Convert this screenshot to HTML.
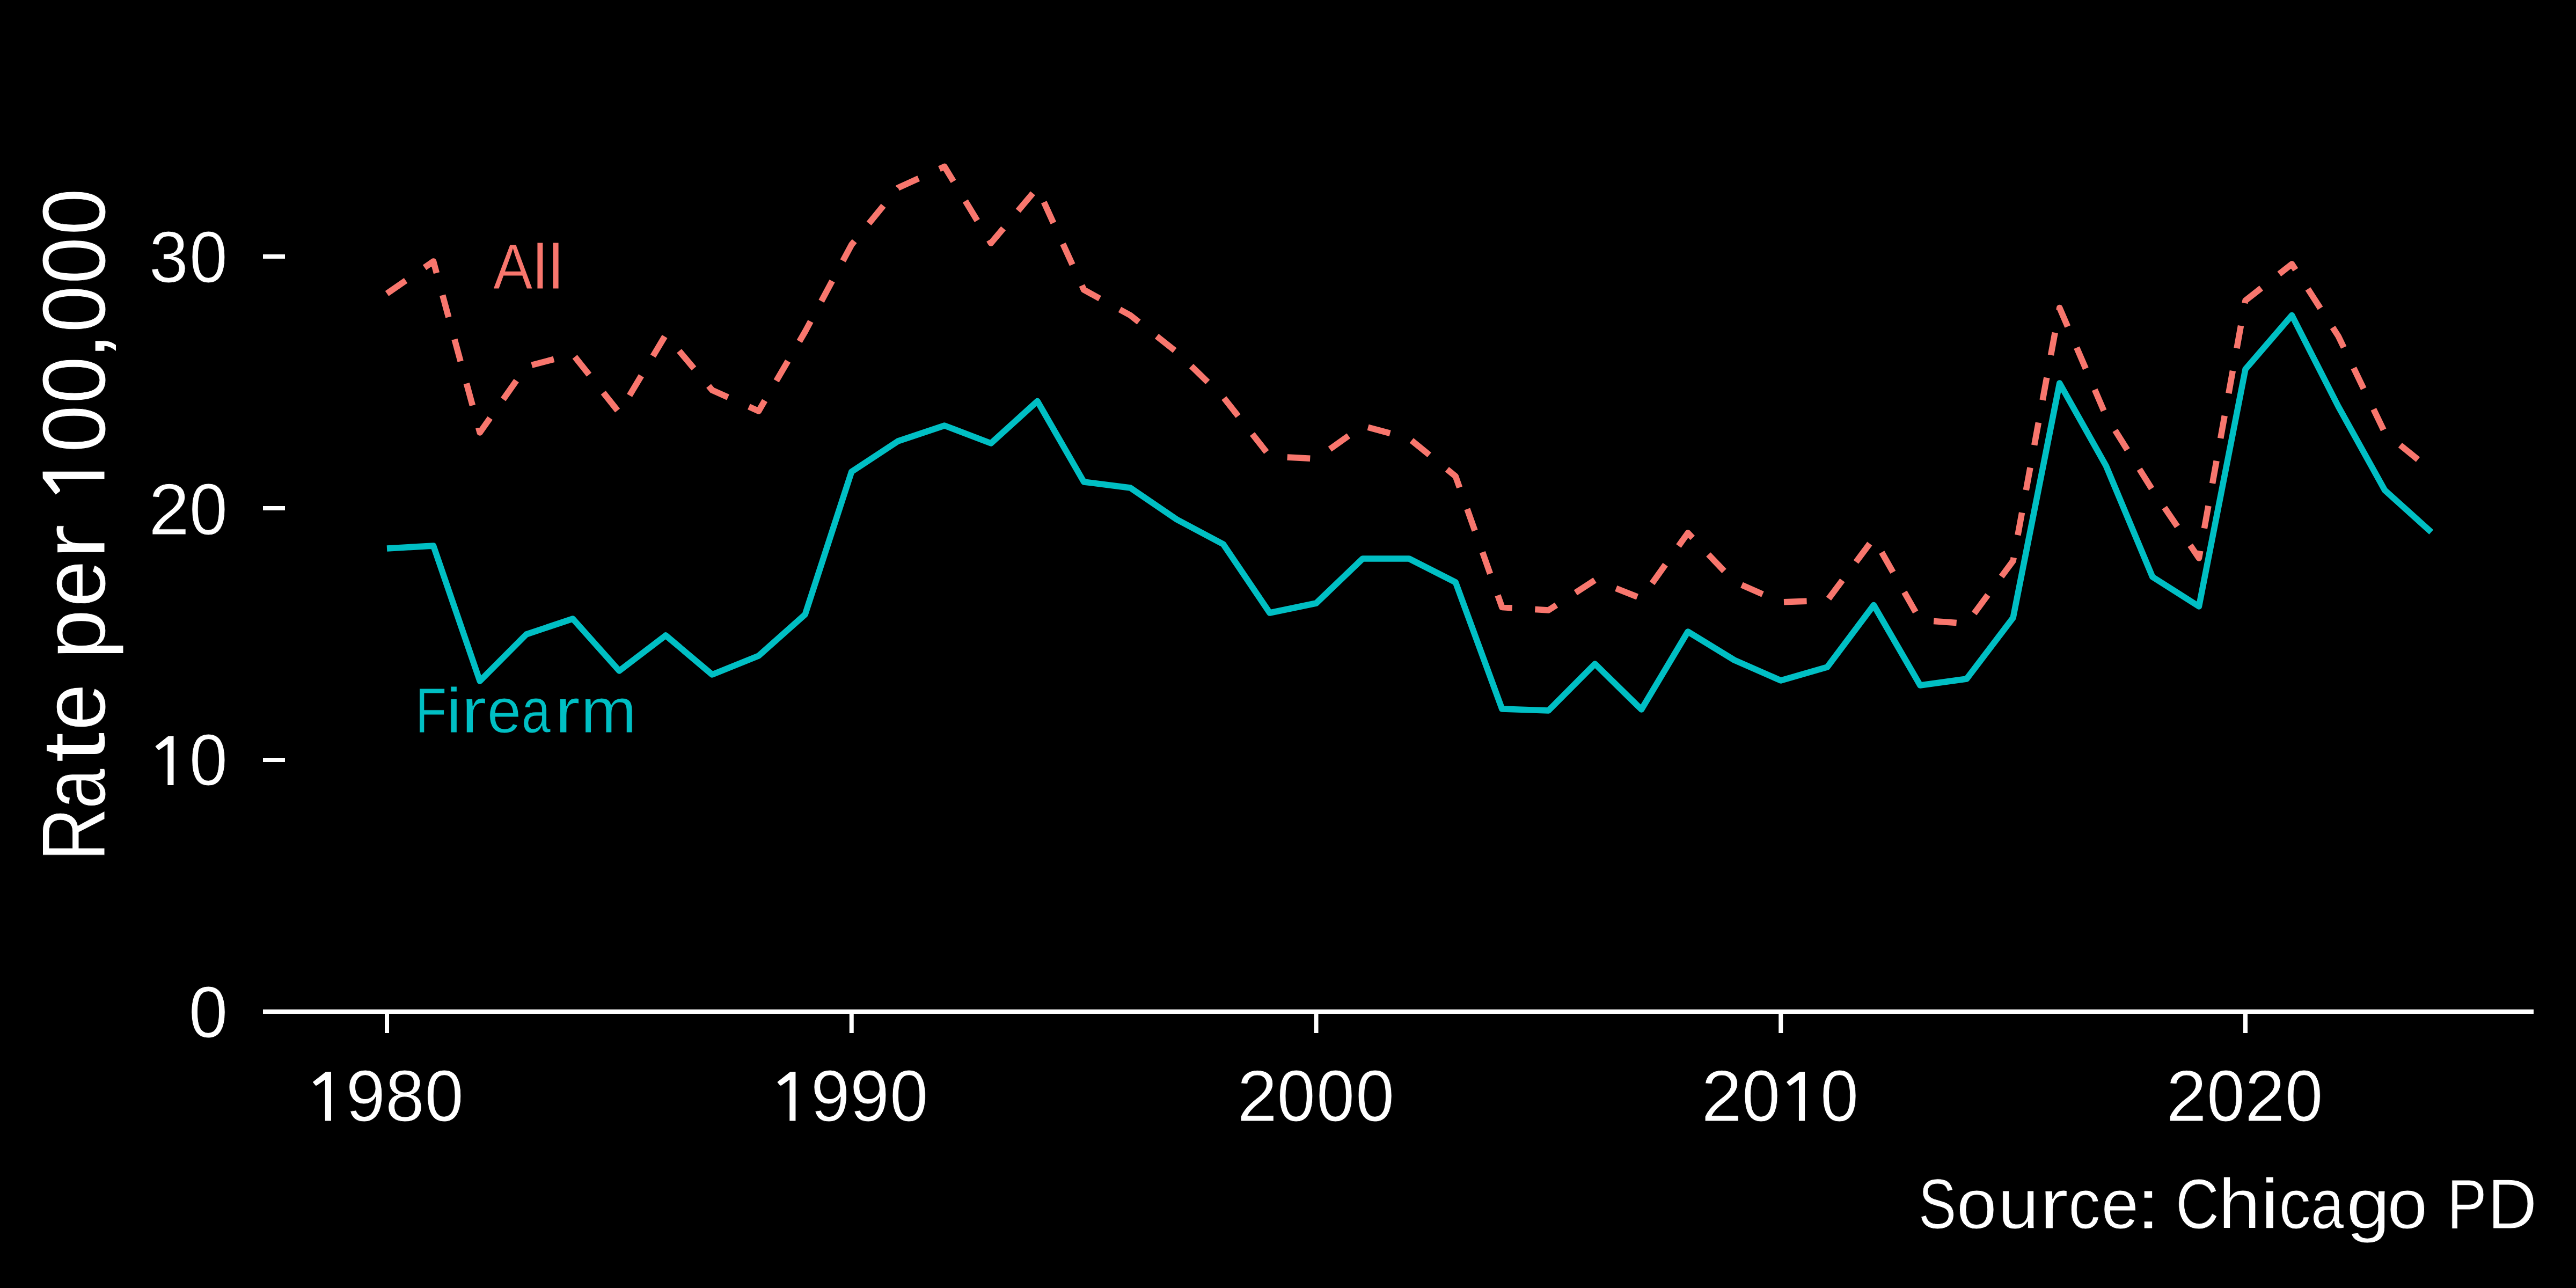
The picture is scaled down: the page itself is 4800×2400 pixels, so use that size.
<!DOCTYPE html>
<html><head><meta charset="utf-8"><title>Chart</title>
<style>
html,body{margin:0;padding:0;background:#000;width:4800px;height:2400px;overflow:hidden}
svg{display:block}
text{font-family:"Liberation Sans",sans-serif;stroke:#000;stroke-width:1px}
</style></head><body>
<svg width="4800" height="2400" viewBox="0 0 4800 2400">
<rect x="0" y="0" width="4800" height="2400" fill="#000"/>
<g fill="none" stroke="#fff" stroke-width="8" stroke-linecap="butt">
<line x1="490" y1="1885" x2="4721" y2="1885"/>
<line x1="490" y1="478" x2="531" y2="478"/>
<line x1="490" y1="947" x2="531" y2="947"/>
<line x1="490" y1="1416" x2="531" y2="1416"/>
<line x1="721" y1="1885" x2="721" y2="1925"/>
<line x1="1586.75" y1="1885" x2="1586.75" y2="1925"/>
<line x1="2452.5" y1="1885" x2="2452.5" y2="1925"/>
<line x1="3318.25" y1="1885" x2="3318.25" y2="1925"/>
<line x1="4184" y1="1885" x2="4184" y2="1925"/>
</g>
<text transform="translate(277.69,526) scale(0.9677,1)" fill="#fff" font-size="136">3</text>
<text transform="translate(353.12,526) scale(0.9368,1)" fill="#fff" font-size="136">0</text>
<text transform="translate(277.02,995.5) scale(1.0055,1)" fill="#fff" font-size="136">2</text>
<text transform="translate(352.80,995.5) scale(0.9414,1)" fill="#fff" font-size="136">0</text>
<polygon points="313.45,1371.70 323.51,1371.50 323.51,1463.00 312.34,1463.00 312.34,1386.20 296.74,1397.27 294.52,1397.27 289.39,1390.83" fill="#fff"/>
<text transform="translate(352.80,1463) scale(0.9414,1)" fill="#fff" font-size="136">0</text>
<text transform="translate(351.70,1932.5) scale(0.9598,1)" fill="#fff" font-size="136">0</text>
<polygon points="606.90,1997.20 616.96,1997.00 616.96,2088.50 605.79,2088.50 605.79,2011.70 590.19,2022.77 587.97,2022.77 582.84,2016.33" fill="#fff"/>
<text transform="translate(644.50,2088.5) scale(0.9726,1)" fill="#fff" font-size="136">9</text>
<text transform="translate(718.01,2088.5) scale(0.9621,1)" fill="#fff" font-size="136">8</text>
<text transform="translate(791.52,2088.5) scale(0.9568,1)" fill="#fff" font-size="136">0</text>
<polygon points="1472.40,1997.20 1482.46,1997.00 1482.46,2088.50 1471.29,2088.50 1471.29,2011.70 1455.69,2022.77 1453.47,2022.77 1448.34,2016.33" fill="#fff"/>
<text transform="translate(1510.84,2088.5) scale(0.9662,1)" fill="#fff" font-size="136">9</text>
<text transform="translate(1583.81,2088.5) scale(0.9710,1)" fill="#fff" font-size="136">9</text>
<text transform="translate(1657.88,2088.5) scale(0.9444,1)" fill="#fff" font-size="136">0</text>
<text transform="translate(2305.14,2088.5) scale(0.9878,1)" fill="#fff" font-size="136">2</text>
<text transform="translate(2379.58,2088.5) scale(0.9444,1)" fill="#fff" font-size="136">0</text>
<text transform="translate(2453.01,2088.5) scale(0.9398,1)" fill="#fff" font-size="136">0</text>
<text transform="translate(2526.03,2088.5) scale(0.9552,1)" fill="#fff" font-size="136">0</text>
<text transform="translate(3170.26,2088.5) scale(1.0007,1)" fill="#fff" font-size="136">2</text>
<text transform="translate(3246.01,2088.5) scale(0.9398,1)" fill="#fff" font-size="136">0</text>
<polygon points="3353.05,1997.20 3363.11,1997.00 3363.11,2088.50 3351.94,2088.50 3351.94,2011.70 3336.34,2022.77 3334.12,2022.77 3328.99,2016.33" fill="#fff"/>
<text transform="translate(3392.11,2088.5) scale(0.9398,1)" fill="#fff" font-size="136">0</text>
<text transform="translate(4036.16,2088.5) scale(1.0007,1)" fill="#fff" font-size="136">2</text>
<text transform="translate(4111.92,2088.5) scale(0.9383,1)" fill="#fff" font-size="136">0</text>
<text transform="translate(4183.05,2088.5) scale(0.9862,1)" fill="#fff" font-size="136">2</text>
<text transform="translate(4257.84,2088.5) scale(0.9337,1)" fill="#fff" font-size="136">0</text>
<text transform="translate(194.5,1604.40) rotate(-90) scale(0.8250,1)" fill="#fff" font-size="167">R</text>
<text transform="translate(194.5,1507.33) rotate(-90) scale(0.8079,1)" fill="#fff" font-size="167">a</text>
<text transform="translate(194.5,1421.54) rotate(-90) scale(1.2428,1)" fill="#fff" font-size="167">t</text>
<text transform="translate(194.5,1361.59) rotate(-90) scale(0.9430,1)" fill="#fff" font-size="167">e</text>
<text transform="translate(194.5,1228.66) rotate(-90) scale(1.0093,1)" fill="#fff" font-size="167">p</text>
<text transform="translate(194.5,1131.26) rotate(-90) scale(0.9392,1)" fill="#fff" font-size="167">e</text>
<text transform="translate(194.5,1043.33) rotate(-90) scale(1.2024,1)" fill="#fff" font-size="167">r</text>
<text transform="translate(194.5,843.43) rotate(-90) scale(0.9558,1)" fill="#fff" font-size="167">0</text>
<text transform="translate(194.5,752.21) rotate(-90) scale(0.9520,1)" fill="#fff" font-size="167">0</text>
<text transform="translate(194.5,673.85) rotate(-90) scale(1.2500,1)" fill="#fff" font-size="167">,</text>
<text transform="translate(194.5,620.09) rotate(-90) scale(0.9483,1)" fill="#fff" font-size="167">0</text>
<text transform="translate(194.5,529.38) rotate(-90) scale(0.9470,1)" fill="#fff" font-size="167">0</text>
<text transform="translate(194.5,438.13) rotate(-90) scale(0.9395,1)" fill="#fff" font-size="167">0</text>
<polygon points="79.75,891.36 79.50,878.71 194.50,878.71 194.50,892.75 97.97,892.75 111.89,912.36 111.89,915.14 103.79,921.59" fill="#fff"/>
<text transform="translate(918.89,538) scale(0.9239,1)" fill="#F8766D" font-size="119">A</text>
<text transform="translate(992.57,538) scale(1.0517,1)" fill="#F8766D" font-size="119">l</text>
<text transform="translate(1021.49,538) scale(1.0613,1)" fill="#F8766D" font-size="119">l</text>
<text transform="translate(773.95,1365) scale(0.8114,1)" fill="#00BFC4" font-size="118">F</text>
<text transform="translate(830.97,1365) scale(1.1185,1)" fill="#00BFC4" font-size="118">i</text>
<text transform="translate(859.32,1365) scale(1.2102,1)" fill="#00BFC4" font-size="118">r</text>
<text transform="translate(907.65,1365) scale(0.9680,1)" fill="#00BFC4" font-size="118">e</text>
<text transform="translate(971.77,1365) scale(0.8249,1)" fill="#00BFC4" font-size="118">a</text>
<text transform="translate(1033.42,1365) scale(1.2102,1)" fill="#00BFC4" font-size="118">r</text>
<text transform="translate(1081.88,1365) scale(1.0619,1)" fill="#00BFC4" font-size="118">m</text>
<text transform="translate(3574.76,2289) scale(0.8000,1)" fill="#fff" font-size="132">S</text>
<text transform="translate(3645.83,2289) scale(1.0220,1)" fill="#fff" font-size="132">o</text>
<text transform="translate(3722.76,2289) scale(1.0433,1)" fill="#fff" font-size="132">u</text>
<text transform="translate(3800.12,2289) scale(1.2303,1)" fill="#fff" font-size="132">r</text>
<text transform="translate(3854.37,2289) scale(0.8979,1)" fill="#fff" font-size="132">c</text>
<text transform="translate(3915.49,2289) scale(0.9461,1)" fill="#fff" font-size="132">e</text>
<text transform="translate(3979.93,2289) scale(1.2500,1)" fill="#fff" font-size="132">:</text>
<text transform="translate(4054.11,2289) scale(0.8481,1)" fill="#fff" font-size="132">C</text>
<text transform="translate(4133.60,2289) scale(1.0703,1)" fill="#fff" font-size="132">h</text>
<text transform="translate(4212.07,2289) scale(1.1809,1)" fill="#fff" font-size="132">i</text>
<text transform="translate(4246.47,2289) scale(0.8979,1)" fill="#fff" font-size="132">c</text>
<text transform="translate(4305.92,2289) scale(0.8348,1)" fill="#fff" font-size="132">a</text>
<text transform="translate(4372.04,2289) scale(1.1118,1)" fill="#fff" font-size="132">g</text>
<text transform="translate(4448.13,2289) scale(1.0220,1)" fill="#fff" font-size="132">o</text>
<text transform="translate(4559.69,2289) scale(0.8412,1)" fill="#fff" font-size="132">P</text>
<text transform="translate(4635.26,2289) scale(0.9644,1)" fill="#fff" font-size="132">D</text>
<path d="M721.00,1022.00 L807.58,1017.00 L894.15,1269.00 L980.73,1182.00 L1067.30,1153.00 L1153.88,1250.00 L1240.45,1184.00 L1327.03,1257.00 L1413.60,1222.00 L1500.18,1145.00 L1586.75,879.00 L1673.33,822.00 L1759.90,793.00 L1846.48,826.00 L1933.05,747.50 L2019.62,898.00 L2106.20,909.00 L2192.78,968.00 L2279.35,1014.00 L2365.93,1142.00 L2452.50,1124.00 L2539.07,1041.00 L2625.65,1041.00 L2712.23,1085.00 L2798.80,1321.00 L2885.38,1324.00 L2971.95,1237.00 L3058.53,1322.00 L3145.10,1177.00 L3231.68,1230.00 L3318.25,1268.00 L3404.83,1243.00 L3491.40,1127.50 L3577.97,1277.00 L3664.55,1265.00 L3751.12,1151.00 L3837.70,714.00 L3924.28,868.00 L4010.85,1075.00 L4097.43,1130.00 L4184.00,688.00 L4270.58,587.50 L4357.15,757.50 L4443.73,913.50 L4530.30,991.60" fill="none" stroke="#00BFC4" stroke-width="11.5" stroke-linejoin="round" stroke-linecap="butt"/>
<path d="M721.00,547.00 L807.58,487.00 L894.15,806.00 L980.73,683.00 L1067.30,660.00 L1153.88,769.00 L1240.45,624.00 L1327.03,727.00 L1413.60,766.00 L1500.18,618.00 L1586.75,456.00 L1673.33,350.00 L1759.90,310.50 L1846.48,453.00 L1933.05,350.00 L2019.62,540.00 L2106.20,587.50 L2192.78,656.00 L2279.35,740.00 L2365.93,850.00 L2452.50,855.00 L2539.07,793.50 L2625.65,817.00 L2712.23,887.50 L2798.80,1131.50 L2885.38,1137.00 L2971.95,1081.00 L3058.53,1115.00 L3145.10,993.00 L3231.68,1084.00 L3318.25,1122.00 L3404.83,1119.00 L3491.40,1003.00 L3577.97,1155.50 L3664.55,1162.00 L3751.12,1045.00 L3837.70,573.50 L3924.28,775.00 L4010.85,913.00 L4097.43,1040.00 L4184.00,560.00 L4270.58,492.00 L4357.15,626.50 L4443.73,806.00 L4530.30,876.60" fill="none" stroke="#F8766D" stroke-width="11.5" stroke-linejoin="round" stroke-linecap="butt" stroke-dasharray="42.625 42.625"/>
</svg>
</body></html>
